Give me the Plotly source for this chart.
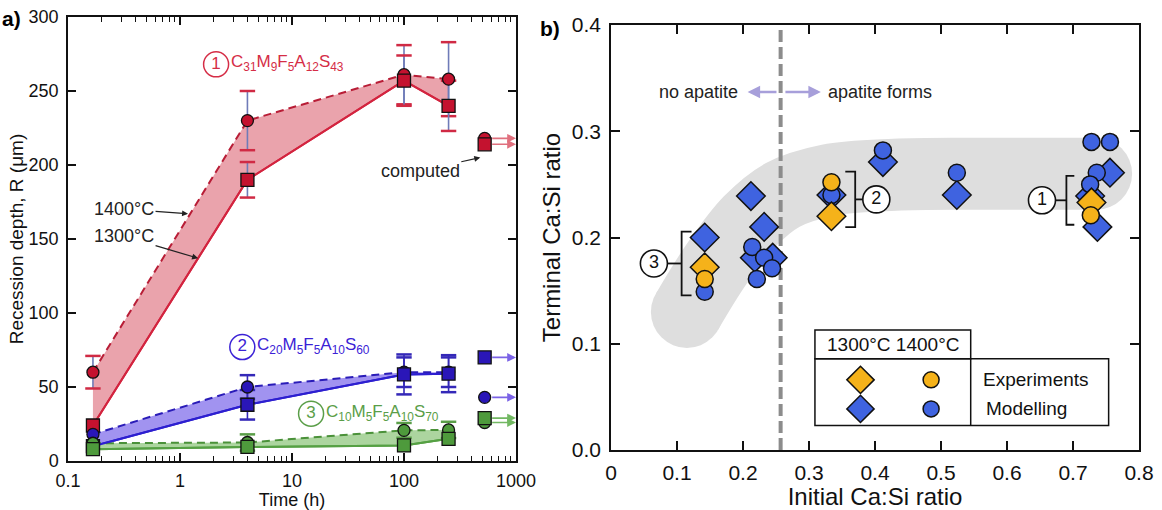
import numpy as np
import plotly.graph_objects as go

# ---------------- Panel a data ----------------
times_h = [0.167, 4, 100, 250]
t_computed = 525

R1_1400 = [60, 230, 261, 258]
R1_1400_err = [11, 20, 20, 25]
R1_1300 = [24, 190, 257, 240]
R1_1300_err = [0, 12, 17, 17]
R1_computed = [218, 214]          # [1400 circle, 1300 square]

R2_1400 = [18, 50, 60, 60]
R2_1400_err = [0, 8, 10, 10]
R2_1300 = [10, 38, 58.5, 59]
R2_1300_err = [0, 10, 13.5, 12.5]
R2_computed = [43, 70]

R3_1400 = [12, 12.5, 20.7, 21]
R3_1400_err = [0, 5.5, 5, 5.5]
R3_1300 = [8, 9.5, 10.5, 15]
R3_1300_err = [0, 0, 0, 0]
R3_computed = [26, 29]

series_numbers = ["1", "2", "3"]
series_formulas = [
    "C<sub>31</sub>M<sub>9</sub>F<sub>5</sub>A<sub>12</sub>S<sub>43</sub>",
    "C<sub>20</sub>M<sub>5</sub>F<sub>5</sub>A<sub>10</sub>S<sub>60</sub>",
    "C<sub>10</sub>M<sub>5</sub>F<sub>5</sub>A<sub>10</sub>S<sub>70</sub>",
]
series_label_t = [2.1, 3.6, 14.8]
series_label_R = [268, 77, 32]

time_ticks = [0.1, 1, 10, 100, 1000]
time_ticktext = ["0.1", "1", "10", "100", "1000"]
time_minor = [m * 10.0 ** d for d in range(-1, 3) for m in range(2, 10)]
R_ticks = [0, 50, 100, 150, 200, 250, 300]

# ---------------- Panel b data ----------------
exp1300_x = [0.142, 0.334, 0.728]
exp1300_y = [0.172, 0.220, 0.233]
exp1400_x = [0.142, 0.334, 0.727]
exp1400_y = [0.161, 0.252, 0.221]

mod1300_x = [0.142, 0.212, 0.232, 0.218, 0.245, 0.334, 0.412, 0.524, 0.726, 0.756, 0.737]
mod1300_y = [0.200, 0.239, 0.210, 0.181, 0.181, 0.240, 0.271, 0.240, 0.239, 0.261, 0.210]
mod1400_x = [0.142, 0.214, 0.232, 0.244, 0.221, 0.334, 0.412, 0.524, 0.728, 0.756, 0.736, 0.726]
mod1400_y = [0.149, 0.191, 0.181, 0.171, 0.161, 0.240, 0.282, 0.261, 0.290, 0.290, 0.261, 0.250]

band_x = [0.115, 0.16, 0.21, 0.26, 0.33, 0.43, 0.55, 0.735]
band_y = [0.130, 0.175, 0.215, 0.240, 0.254, 0.259, 0.260, 0.260]

apatite_threshold = 0.257

bracket_labels = ["3", "2", "1"]
bracket_x = [0.107, 0.370, 0.690]
bracket_lo = [0.1455, 0.2097, 0.212]
bracket_hi = [0.2056, 0.262, 0.258]
bracket_arm = [0.015, -0.015, 0.012]
bracket_label_x = [0.065, 0.402, 0.653]

ratio_ticks = [0, 0.1, 0.2, 0.3, 0.4, 0.5, 0.6, 0.7, 0.8]
ratio_ticktext = ["0", "0.1", "0.2", "0.3", "0.4", "0.5", "0.6", "0.7", "0.8"]
terminal_ticks = [0.0, 0.1, 0.2, 0.3, 0.4]

# ---------------- styles ----------------
FONT = "Liberation Sans, Arial, Helvetica, sans-serif"
line_cols = ["#d3243f", "#2d1fd0", "#55a043"]
dash_cols = ["#b81d36", "#2a1cb8", "#4a9139"]
fill_cols = ["#eaa3ac", "#a193f0", "#acd59f"]
mark_cols = ["#c4122f", "#2a16b8", "#4e9a3c"]
err_line_cols = ["#6f7bb8", "#3428b8", "#7d9a74"]
err_cap_cols = ["#d02a44", "#3428b8", "#5a9e48"]
arrow_cols = ["#e0707e", "#7b63e6", "#72b862"]
label_cols = ["#d52d46", "#3b22d6", "#5a9e48"]
YELLOW = "#f5b21a"
BLUE = "#3f63e0"

R1400 = [R1_1400, R2_1400, R3_1400]
R1400e = [R1_1400_err, R2_1400_err, R3_1400_err]
R1300 = [R1_1300, R2_1300, R3_1300]
R1300e = [R1_1300_err, R2_1300_err, R3_1300_err]
Rcomp = [R1_computed, R2_computed, R3_computed]

fig = go.Figure()

# bands
for s in range(3):
    fig.add_trace(go.Scatter(x=times_h, y=R1300[s], mode="lines",
                             line=dict(color=line_cols[s], width=2),
                             hoverinfo="skip", showlegend=False))
    fig.add_trace(go.Scatter(x=times_h, y=R1400[s], mode="lines",
                             line=dict(color=dash_cols[s], width=2, dash="8px,5px"),
                             fill="tonexty", fillcolor=fill_cols[s],
                             hoverinfo="skip", showlegend=False))
for s in range(3):
    fig.add_trace(go.Scatter(x=times_h, y=R1300[s], mode="lines",
                             line=dict(color=line_cols[s], width=2),
                             hoverinfo="skip", showlegend=False))

# error bars
def add_err(y, err, vcol, capcol):
    idx = [i for i, e in enumerate(err) if e > 0]
    if not idx:
        return
    xs = [times_h[i] for i in idx]
    ys = [y[i] for i in idx]
    es = [err[i] for i in idx]
    fig.add_trace(go.Scatter(x=xs, y=ys, mode="markers",
                             marker=dict(size=2, color="rgba(0,0,0,0)"),
                             error_y=dict(type="data", array=es, color=vcol,
                                          thickness=1.6, width=0),
                             hoverinfo="skip", showlegend=False))
    fig.add_trace(go.Scatter(x=xs + xs, y=[a + b for a, b in zip(ys, es)] + [a - b for a, b in zip(ys, es)],
                             mode="markers",
                             marker=dict(symbol="line-ew", size=11,
                                         line=dict(color=capcol, width=2.5)),
                             hoverinfo="skip", showlegend=False))

for s in range(3):
    add_err(R1400[s], R1400e[s], err_line_cols[s], err_cap_cols[s])
    add_err(R1300[s], R1300e[s], err_line_cols[s], err_cap_cols[s])

# markers
for s in range(3):
    fig.add_trace(go.Scatter(x=times_h, y=R1400[s], mode="markers",
                             marker=dict(symbol="circle", size=12, color=mark_cols[s], opacity=1,
                                         line=dict(color="#111", width=1.3)),
                             hoverinfo="skip", showlegend=False))
    fig.add_trace(go.Scatter(x=times_h, y=R1300[s], mode="markers",
                             marker=dict(symbol="square", size=13, color=mark_cols[s], opacity=1,
                                         line=dict(color="#111", width=1.3)),
                             hoverinfo="skip", showlegend=False))
    fig.add_trace(go.Scatter(x=[t_computed], y=[Rcomp[s][0]], mode="markers",
                             marker=dict(symbol="circle", size=12, color=mark_cols[s], opacity=1,
                                         line=dict(color="#111", width=1.3)),
                             hoverinfo="skip", showlegend=False))
    fig.add_trace(go.Scatter(x=[t_computed], y=[Rcomp[s][1]], mode="markers",
                             marker=dict(symbol="square", size=13, color=mark_cols[s], opacity=1,
                                         line=dict(color="#111", width=1.3)),
                             hoverinfo="skip", showlegend=False))

# series labels (circled numbers)
for s in range(3):
    fig.add_trace(go.Scatter(x=[series_label_t[s]], y=[series_label_R[s]], mode="markers+text",
                             marker=dict(symbol="circle-open", size=25,
                                         line=dict(color=label_cols[s], width=1.5),
                                         color=label_cols[s]),
                             text=[series_numbers[s]], textposition="middle center",
                             textfont=dict(family=FONT, size=17, color=label_cols[s]),
                             hoverinfo="skip", showlegend=False))

annotations = []
for s in range(3):
    annotations.append(dict(x=np.log10(series_label_t[s]), y=series_label_R[s], xref="x", yref="y",
                            text=series_formulas[s], showarrow=False, xanchor="left", xshift=13,
                            yshift=1,
                            font=dict(family=FONT, size=17, color=label_cols[s])))

# computed arrows
for s in range(3):
    for v in Rcomp[s]:
        annotations.append(dict(x=3.0, y=v, xref="x", yref="y",
                                ax=np.log10(t_computed), ay=v, axref="x", ayref="y",
                                showarrow=True, arrowhead=2, arrowsize=1.1, arrowwidth=1.6,
                                arrowcolor=arrow_cols[s], startstandoff=6, text=""))

annotations += [
    dict(x=np.log10(1.18), y=167, xref="x", yref="y", text="1400°C", showarrow=True,
         ax=-64, ay=-5, arrowhead=2, arrowsize=1, arrowwidth=1.2, arrowcolor="#222",
         font=dict(family=FONT, size=18, color="#222")),
    dict(x=np.log10(1.45), y=137, xref="x", yref="y", text="1300°C", showarrow=True,
         ax=-74, ay=-22, arrowhead=2, arrowsize=1, arrowwidth=1.2, arrowcolor="#222",
         font=dict(family=FONT, size=18, color="#222")),
    dict(x=np.log10(480), y=205, xref="x", yref="y", text="computed", showarrow=True,
         ax=-60, ay=13, arrowhead=2, arrowsize=1, arrowwidth=1.2, arrowcolor="#222",
         font=dict(family=FONT, size=18, color="#222")),
    dict(x=0.0, y=0.99, xref="paper", yref="paper", text="<b>a)</b>", showarrow=False,
         xanchor="left", yanchor="top", font=dict(family=FONT, size=21, color="black")),
    dict(x=538 / 1162, y=0.97, xref="paper", yref="paper", text="<b>b)</b>", showarrow=False,
         xanchor="left", yanchor="top", font=dict(family=FONT, size=21, color="black")),
]

# ---------------- Panel b ----------------
fig.add_trace(go.Scatter(x=band_x, y=band_y, mode="lines", xaxis="x2", yaxis="y2",
                         line=dict(color="#dedede", width=72, shape="spline"),
                         hoverinfo="skip", showlegend=False))
fig.add_trace(go.Scatter(x=[band_x[0], band_x[-1]], y=[band_y[0], band_y[-1]], mode="markers",
                         xaxis="x2", yaxis="y2",
                         marker=dict(size=72, color="#dedede", opacity=1),
                         hoverinfo="skip", showlegend=False))
fig.add_trace(go.Scatter(x=[apatite_threshold, apatite_threshold], y=[0, 0.4], mode="lines",
                         xaxis="x2", yaxis="y2",
                         line=dict(color="#8c8c8c", width=4, dash="12px,5px"),
                         hoverinfo="skip", showlegend=False))

for i in range(3):
    bx = bracket_x[i]
    arm = bracket_arm[i]
    fig.add_trace(go.Scatter(x=[bx + arm, bx, bx, bx + arm],
                             y=[bracket_hi[i], bracket_hi[i], bracket_lo[i], bracket_lo[i]],
                             mode="lines", xaxis="x2", yaxis="y2",
                             line=dict(color="#111", width=1.8),
                             hoverinfo="skip", showlegend=False))
    ymid = 0.5 * (bracket_hi[i] + bracket_lo[i])
    fig.add_trace(go.Scatter(x=[bx, bracket_label_x[i]], y=[ymid, ymid],
                             mode="lines", xaxis="x2", yaxis="y2",
                             line=dict(color="#111", width=1.8),
                             hoverinfo="skip", showlegend=False))
    fig.add_trace(go.Scatter(x=[bracket_label_x[i]], y=[ymid], mode="markers+text",
                             xaxis="x2", yaxis="y2",
                             marker=dict(symbol="circle", size=27, color="white", opacity=1,
                                         line=dict(color="#111", width=1.6)),
                             text=[bracket_labels[i]], textposition="middle center",
                             textfont=dict(family=FONT, size=18, color="#111"),
                             hoverinfo="skip", showlegend=False))

mk_line = dict(color="#111", width=1.5)
def add_pts(xs, ys, symbol, size, color):
    fig.add_trace(go.Scatter(x=xs, y=ys, mode="markers", xaxis="x2", yaxis="y2",
                             marker=dict(symbol=symbol, size=size, color=color, opacity=1, line=mk_line),
                             hoverinfo="skip", showlegend=False))

add_pts(mod1300_x, mod1300_y, "diamond", 22, BLUE)
add_pts(mod1400_x, mod1400_y, "circle", 17, BLUE)
add_pts(exp1300_x, exp1300_y, "diamond", 22, YELLOW)
add_pts(exp1400_x, exp1400_y, "circle", 17, YELLOW)

# custom legend box
leg_x0, leg_xmid, leg_x1 = 0.309, 0.545, 0.754
leg_y0, leg_ymid, leg_y1 = 0.023, 0.0858, 0.113
box_line = dict(color="#111", width=1.5)
shapes = [
    dict(type="rect", xref="x2", yref="y2", x0=leg_x0, x1=leg_xmid, y0=leg_ymid, y1=leg_y1,
         line=box_line, layer="above"),
    dict(type="rect", xref="x2", yref="y2", x0=leg_x0, x1=leg_x1, y0=leg_y0, y1=leg_ymid,
         line=box_line, layer="above"),
    dict(type="line", xref="x2", yref="y2", x0=leg_xmid, x1=leg_xmid, y0=leg_y0, y1=leg_ymid,
         line=box_line, layer="above"),
]
leg_marker_x = [0.378, 0.485]
leg_row_y = [0.066, 0.0387]
add_pts([leg_marker_x[0]], [leg_row_y[0]], "diamond", 21, YELLOW)
add_pts([leg_marker_x[1]], [leg_row_y[0]], "circle", 16, YELLOW)
add_pts([leg_marker_x[0]], [leg_row_y[1]], "diamond", 21, BLUE)
add_pts([leg_marker_x[1]], [leg_row_y[1]], "circle", 16, BLUE)

annotations += [
    dict(x=0.5 * (leg_x0 + leg_xmid), y=0.5 * (leg_ymid + leg_y1), xref="x2", yref="y2",
         text="1300°C 1400°C", showarrow=False, font=dict(family=FONT, size=19, color="#111")),
    dict(x=0.561, y=leg_row_y[0], xref="x2", yref="y2", text="Experiments", showarrow=False,
         xanchor="left", font=dict(family=FONT, size=19, color="#111")),
    dict(x=0.565, y=leg_row_y[1], xref="x2", yref="y2", text="Modelling", showarrow=False,
         xanchor="left", font=dict(family=FONT, size=19, color="#111")),
    dict(x=0.196, y=0.337, xref="x2", yref="y2", text="no apatite", showarrow=False,
         xanchor="right", font=dict(family=FONT, size=18, color="#222")),
    dict(x=0.325, y=0.337, xref="x2", yref="y2", text="apatite forms", showarrow=False,
         xanchor="left", font=dict(family=FONT, size=18, color="#222")),
    dict(x=0.207, y=0.337, xref="x2", yref="y2", ax=0.253, ay=0.337, axref="x2", ayref="y2",
         showarrow=True, arrowhead=2, arrowsize=1, arrowwidth=2.5, arrowcolor="#a79fda", text=""),
    dict(x=0.318, y=0.337, xref="x2", yref="y2", ax=0.262, ay=0.337, axref="x2", ayref="y2",
         showarrow=True, arrowhead=2, arrowsize=1, arrowwidth=2.5, arrowcolor="#a79fda", text=""),
]

axis_common = dict(showline=True, linecolor="#111", linewidth=1.5, ticks="inside",
                   tickcolor="#111", tickwidth=1.5, mirror="allticks", showgrid=False,
                   zeroline=False, automargin=False)

fig.update_layout(
    width=1162, height=510, margin=dict(l=0, r=0, t=0, b=0),
    paper_bgcolor="white", plot_bgcolor="white", showlegend=False,
    font=dict(family=FONT, color="#111"),
    xaxis=dict(domain=[68 / 1162, 516 / 1162], type="log", range=[-1, 3],
               tickvals=time_ticks, ticktext=time_ticktext, ticklen=8,
               minor=dict(tickvals=time_minor, ticks="inside", ticklen=5, tickcolor="#111",
                          tickwidth=1.2, showgrid=False),
               tickfont=dict(family=FONT, size=18), ticklabelstandoff=3,
               title=dict(text="Time (h)", font=dict(family=FONT, size=18), standoff=2),
               anchor="y", **axis_common),
    yaxis=dict(domain=[49 / 510, 493 / 510], range=[0, 300], tickvals=R_ticks, ticklen=8,
               tickfont=dict(family=FONT, size=18), ticklabelstandoff=4,
               title=dict(text="Recession depth, R (μm)", font=dict(family=FONT, size=19), standoff=0),
               anchor="x", **axis_common),
    xaxis2=dict(domain=[611 / 1162, 1139 / 1162], range=[0, 0.8], tickvals=ratio_ticks,
                ticktext=ratio_ticktext, ticklen=9,
                tickfont=dict(family=FONT, size=21), ticklabelstandoff=3,
                title=dict(text="Initial Ca:Si ratio", font=dict(family=FONT, size=24), standoff=6),
                anchor="y2", **axis_common),
    yaxis2=dict(domain=[60 / 510, 485 / 510], range=[0, 0.4], tickvals=terminal_ticks,
                tickformat=".1f", ticklen=9,
                tickfont=dict(family=FONT, size=21), ticklabelstandoff=4,
                title=dict(text="Terminal Ca:Si ratio", font=dict(family=FONT, size=24), standoff=4),
                anchor="x2", **axis_common),
    annotations=annotations,
    shapes=shapes,
)

fig.write_html("out.html", config={"displayModeBar": False},
               post_script="document.body.style.margin='0';document.body.style.overflow='hidden';")
